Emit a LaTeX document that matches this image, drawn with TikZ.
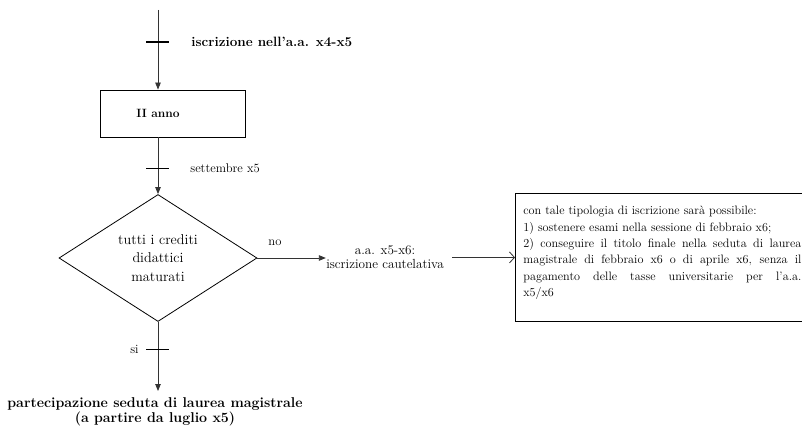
\documentclass[tikz,border=0pt]{standalone}
\usetikzlibrary{shapes.geometric,arrows.meta}

\begin{document}
\begin{tikzpicture}[x=1pt,y=-1pt,line width=0.8pt,
  flow/.style={draw=black!80,-{Triangle[length=7pt,width=5.5pt]}},
  openflow/.style={draw=black!80,-{Straight Barb[length=5pt,width=11pt]}},
  tickmark/.style={draw=black,line width=1pt},
  boxnode/.style={draw=black,line width=0.9pt,inner sep=0pt},
  boldtext/.style={font=\bfseries\fontsize{13.5}{15}\selectfont,inner sep=0pt},
  smalltext/.style={font=\fontsize{12.6}{14}\selectfont,inner sep=0pt}]
\useasboundingbox (0,0) rectangle (802,433);

% top entry
\coordinate (start) at (158,10);
\node[boldtext,anchor=west] (iscr) at (191,42) {iscrizione nell'a.a. x4-x5};

% second year box
\node[boxnode,minimum width=145pt,minimum height=47pt] (anno) at (172.5,113.5) {};
\node[boldtext,font=\bfseries\fontsize{12}{14}\selectfont] (annotext) at (158,113) {II anno};

% decision
\node[diamond,draw=black,line width=0.8pt,inner sep=0pt,minimum width=198pt,minimum height=127pt] (dec) at (158,258) {};
\node[align=center,inner sep=0pt,font=\fontsize{14.2}{18.5}\selectfont] (dectext) at (158,258) {tutti i crediti\\didattici\\maturati};

% labels on the flow
\node[smalltext,anchor=west] (sett) at (190,168) {settembre x5};
\node[smalltext,anchor=west] (no) at (268,243) {no};
\node[smalltext,anchor=east] (si) at (139,349) {si};

% cautious enrolment
\node[smalltext,align=center,font=\fontsize{13.2}{14.5}\selectfont] (caut) at (385,257) {a.a. x5-x6:\\iscrizione cautelativa};

% information box
\node[boxnode,anchor=north west,minimum width=292pt,minimum height=128pt] (info) at (515,193) {};
\node[anchor=north west,inner sep=0pt,align=left,font=\fontsize{12.2}{16.3}\selectfont] (infotext) at (523,206)
  {con tale tipologia di iscrizione sarà possibile:\\
   1) sostenere esami nella sessione di febbraio x6;\\
   \makebox[278pt][s]{2) conseguire il titolo finale nella seduta di laurea}\\
   \makebox[278pt][s]{magistrale di febbraio x6 o di aprile x6, senza il}\\
   \makebox[278pt][s]{pagamento delle tasse universitarie per l'a.a.}\\
   x5/x6};

% final outcome
\node[boldtext,align=center,font=\bfseries\fontsize{14.2}{15.5}\selectfont] (laurea) at (155,412)
  {partecipazione seduta di laurea magistrale\\(a partire da luglio x5)};
\coordinate (lauretop) at (158,391);

% connectors
\draw[flow] (start) -- (start |- anno.north);
\draw[flow] (anno.south -| start) -- (dec.north);
\draw[flow] (dec.east) -- (caut.west |- dec.east);
\draw[openflow] (caut.east |- info.west) ++(8,0) -- (info.west);
\draw[flow] (dec.south) -- (lauretop);

% crossing ticks
\draw[tickmark,line width=1.6pt] (146,42) -- (169,42);
\draw[tickmark] (146,168) -- (169,168);
\draw[tickmark] (146,349) -- (169,349);
\end{tikzpicture}
\end{document}
